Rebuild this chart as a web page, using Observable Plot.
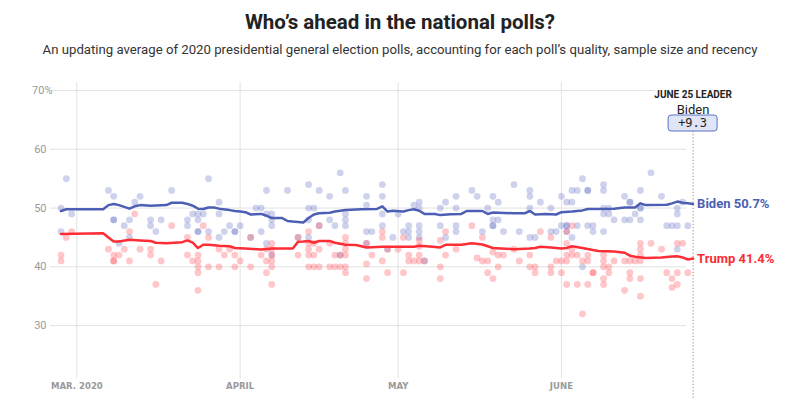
<!DOCTYPE html>
<html>
<head>
<meta charset="utf-8">
<script src="https://cdn.jsdelivr.net/npm/d3@7"></script>
<script src="https://cdn.jsdelivr.net/npm/@observablehq/plot@0.6"></script>
<style>
  html, body { margin: 0; padding: 0; background: #fff; }
  body { width: 800px; height: 410px; overflow: hidden; position: relative; font-family: Roboto, "Noto Sans", sans-serif; }
  #title { position: absolute; top: 9px; left: 0; width: 800px; text-align: center; font-size: 20.5px; line-height: 26px; font-weight: 700; color: #222; }
  #subtitle { position: absolute; top: 41px; left: 0; width: 800px; text-align: center; font-size: 13.2px; line-height: 18px; color: #333; }
  #chart { position: absolute; top: 64px; left: 0; }
</style>
</head>
<body>
<div id="title">Who’s ahead in the national polls?</div>
<div id="subtitle">An updating average of 2020 presidential general election polls, accounting for each poll’s quality, sample size and recency</div>
<div id="chart"></div>
<script>
// ---------- data ----------
const xDomain = ["02-25", "06-26"];
const yDomain = [21, 70];
const yTicks = [30, 40, 50, 60, 70];
const monthTicks = ["03-01", "04-01", "05-01", "06-01"];
const monthLabels = ["MAR. 2020", "APRIL", "MAY", "JUNE"];

const bidenTrend = [
  ["02-27",49.5],["02-28",49.8],["03-06",49.8],["03-07",50.5],["03-08",50.7],["03-09",50.5],["03-11",49.9],
  ["03-12",50.3],["03-13",50.5],["03-15",50.4],["03-18",50.5],["03-19",50.9],["03-21",50.9],["03-22",50.7],
  ["03-23",50.4],["03-24",49.9],["03-25",49.85],["03-26",50.1],["03-27",50.1],["03-28",49.9],["03-30",49.65],
  ["03-31",49.5],["04-01",49.4],["04-02",49.3],["04-03",48.9],["04-05",49.0],["04-06",48.7],["04-07",48.3],
  ["04-09",48.3],["04-10",47.8],["04-11",47.7],["04-13",47.55],["04-14",48.3],["04-15",48.9],["04-16",49.1],
  ["04-18",49.2],["04-19",49.4],["04-21",49.65],["04-24",49.8],["04-27",49.85],["04-28",50.3],["04-29",49.4],
  ["04-30",49.55],["05-02",49.4],["05-03",49.65],["05-04",49.8],["05-05",49.55],["05-06",49.0],["05-08",49.0],
  ["05-09",48.8],["05-11",48.95],["05-13",49.0],["05-14",49.5],["05-17",49.5],["05-18",49.0],["05-19",49.25],
  ["05-23",49.1],["05-25",49.1],["05-26",49.5],["05-27",48.9],["05-29",49.0],["05-31",48.9],["06-01",49.3],
  ["06-03",49.4],["06-05",49.6],["06-06",49.85],["06-11",49.9],["06-13",50.1],["06-15",50.1],["06-16",50.8],
  ["06-17",50.5],["06-21",50.55],["06-22",50.8],["06-23",51.1],["06-24",50.9],["06-25",50.8],["06-26",50.7]
];

const trumpTrend = [
  ["02-27",45.6],["03-06",45.7],["03-07",45.0],["03-08",44.3],["03-09",44.3],["03-11",44.6],["03-13",44.5],
  ["03-15",44.4],["03-16",44.1],["03-18",44.0],["03-21",44.2],["03-22",44.5],["03-23",44.1],["03-24",43.2],
  ["03-25",43.75],["03-26",43.75],["03-28",43.6],["03-30",43.5],["03-31",43.2],["04-02",43.1],["04-05",42.95],
  ["04-07",43.1],["04-11",43.1],["04-12",44.25],["04-13",44.3],["04-14",44.4],["04-15",44.1],["04-16",44.4],
  ["04-18",44.4],["04-19",44.1],["04-21",43.75],["04-23",43.7],["04-25",43.3],["04-28",43.4],["05-04",43.4],
  ["05-05",43.6],["05-07",43.45],["05-09",43.3],["05-10",43.75],["05-13",43.75],["05-15",44.0],["05-17",43.8],
  ["05-19",43.2],["05-23",43.0],["05-26",43.1],["05-27",43.2],["05-28",43.4],["05-30",43.3],["06-01",43.1],
  ["06-02",43.2],["06-03",43.5],["06-05",43.2],["06-07",42.85],["06-08",42.7],["06-11",42.6],["06-13",42.4],
  ["06-14",41.9],["06-15",41.7],["06-17",41.5],["06-20",41.6],["06-22",41.75],["06-23",41.8],["06-24",41.6],
  ["06-25",41.25],["06-26",41.4]
];

const bidenPolls = [
  ["02-27",50],["02-27",46],["02-28",55],["02-29",49],["03-07",53],["03-08",52],["03-08",48],["03-08",48],
  ["03-09",44],["03-10",47],["03-11",48],["03-11",45],["03-12",51],["03-13",52],["03-15",48],["03-15",47],
  ["03-16",46],["03-17",48],["03-19",53],["03-22",48],["03-22",47],["03-23",49],["03-24",49],["03-24",48],
  ["03-24",46],["03-24",46],["03-25",49],["03-26",55],["03-26",46],["03-28",51],["03-28",49],["03-28",45],
  ["03-29",46],["03-30",47],["03-31",46],["03-31",46],["04-01",47],["04-03",45],["04-04",50],["04-05",50],
  ["04-05",46],["04-06",53],["04-06",49],["04-06",44],["04-07",49],["04-07",48],["04-07",47],["04-07",42],
  ["04-10",53],["04-12",45],["04-14",54],["04-14",50],["04-14",48],["04-14",45],["04-15",50],["04-16",53],
  ["04-16",47],["04-18",52],["04-18",48],["04-19",47],["04-20",56],["04-20",42],["04-21",53],["04-21",49],
  ["04-21",48],["04-21",47],["04-25",52],["04-25",50.5],["04-25",46],["04-25",44],["04-26",46],["04-28",54],
  ["04-28",52],["04-28",49],["04-28",47],["04-29",43],["04-30",45],["05-01",49],["05-02",46],["05-03",47],
  ["05-03",46],["05-03",45],["05-04",50.5],["05-05",51],["05-05",50],["05-05",47],["05-05",46],["05-05",45],
  ["05-06",41],["05-09",50],["05-09",47],["05-10",51],["05-10",45],["05-12",52],["05-12",50],["05-12",47],
  ["05-12",46],["05-15",53],["05-16",52],["05-17",46],["05-18",50],["05-19",52],["05-19",48],["05-19",47],
  ["05-19",47],["05-20",51],["05-20",48],["05-21",46],["05-23",54],["05-24",46],["05-26",53],["05-26",52],
  ["05-26",50],["05-26",45],["05-27",45],["05-28",51],["05-30",50],["05-30",46],["05-31",46],["06-01",52],
  ["06-01",47],["06-02",51],["06-02",47],["06-02",47],["06-02",46],["06-03",53],["06-03",51],["06-03",45],
  ["06-04",53],["06-04",47],["06-05",55],["06-05",40],["06-06",53],["06-06",53],["06-06",47],["06-07",47],
  ["06-07",46],["06-09",54],["06-09",53],["06-09",50],["06-09",49],["06-09",46],["06-10",50],["06-10",49],
  ["06-11",48],["06-13",52],["06-13",48],["06-14",51],["06-14",51],["06-14",48],["06-15",49],["06-16",53],
  ["06-16",50],["06-16",50],["06-16",48],["06-18",56],["06-20",52],["06-21",47],["06-22",47],["06-23",50],
  ["06-23",49],["06-23",47],["06-23",43],["06-24",51],["06-25",47]
];

const trumpPolls = [
  ["02-27",42],["02-27",41],["02-28",45],["02-29",46],["03-07",43],["03-08",42],["03-08",41],["03-08",41],
  ["03-09",42],["03-10",43],["03-11",46],["03-11",41],["03-12",49],["03-13",43],["03-15",43],["03-15",42],
  ["03-16",37],["03-17",41],["03-19",47],["03-22",45],["03-22",42],["03-23",41],["03-24",42],["03-24",41],
  ["03-24",40],["03-24",39],["03-24",36],["03-25",47],["03-26",45],["03-26",40],["03-28",43],["03-28",40],
  ["03-29",42],["03-30",43],["03-31",42],["03-31",40],["04-01",41],["04-03",45],["04-03",40],["04-05",42],
  ["04-06",43],["04-06",41],["04-06",39],["04-07",44],["04-07",43],["04-07",42],["04-07",41],["04-07",40],
  ["04-07",37],["04-12",45],["04-12",42],["04-14",46],["04-14",44],["04-14",43],["04-14",42],["04-14",40],
  ["04-15",44],["04-15",42],["04-15",40],["04-16",47],["04-16",43],["04-16",40],["04-18",44],["04-18",40],
  ["04-19",42],["04-19",40],["04-20",42],["04-20",40],["04-21",45],["04-21",44],["04-21",43],["04-21",42],
  ["04-21",40],["04-21",39],["04-25",44],["04-25",40.5],["04-25",38],["04-26",42],["04-28",46],["04-28",45],
  ["04-28",41],["04-29",43],["04-29",39],["05-01",43],["05-02",45],["05-02",39],["05-03",42],["05-03",41],
  ["05-04",41],["05-05",44.5],["05-05",43.5],["05-05",42],["05-05",41],["05-06",41],["05-09",44.5],["05-09",40],
  ["05-09",38],["05-10",46],["05-10",42],["05-12",43],["05-15",47],["05-16",41.5],["05-17",45],["05-17",41],
  ["05-18",41],["05-18",39],["05-19",42.5],["05-19",38],["05-20",42],["05-20",40],["05-21",42],["05-23",43],
  ["05-24",41],["05-26",42],["05-26",40],["05-27",40],["05-27",39],["05-28",46],["05-30",45],["05-30",40],
  ["05-30",39],["05-31",41],["06-01",41],["06-01",39],["06-02",46],["06-02",44],["06-02",42],["06-02",41],
  ["06-02",37],["06-03",47],["06-03",43],["06-03",42],["06-04",42],["06-04",37],["06-05",41],["06-05",32],
  ["06-06",42],["06-06",41],["06-06",37],["06-07",39],["06-07",39],["06-09",42],["06-09",41],["06-09",40],
  ["06-09",38],["06-09",37],["06-10",40],["06-10",39],["06-11",41],["06-13",41],["06-13",36],["06-14",41],
  ["06-14",39],["06-14",38],["06-15",41],["06-16",44],["06-16",43],["06-16",42],["06-16",41],["06-16",38],
  ["06-16",35],["06-18",44],["06-20",43],["06-21",39],["06-22",38],["06-22",36.5],["06-23",44],["06-23",39],
  ["06-23",37],["06-24",44],["06-25",39]
];

// ---------- styles ----------
const BLUE = "#4c5fb5";
const RED = "#fd2d36";
const GRID = "#e2e2e2";
const AXIS_TEXT = "#9a9a9a";

const parse = s => new Date(`2020-${s}T00:00:00Z`);
const toRows = arr => arr.map(([d, v]) => ({date: parse(d), value: v}));

const bT = toRows(bidenTrend), tT = toRows(trumpTrend);
const bP = toRows(bidenPolls), tP = toRows(trumpPolls);
const bLast = bT[bT.length - 1], tLast = tT[tT.length - 1];
const leaderName = bLast.value >= tLast.value ? "Biden" : "Trump";
const margin = Math.abs(bLast.value - tLast.value).toFixed(1);
const leaderRow = {date: bLast.date};
const leaderTitle = "JUNE 25 LEADER";

const chart = Plot.plot({
  width: 800,
  height: 346,
  marginTop: 18,
  marginBottom: 32,
  marginLeft: 50,
  marginRight: 107.4,
  x: {type: "utc", domain: xDomain.map(parse), axis: null},
  y: {domain: yDomain, insetTop: 8, axis: null},
  style: {fontFamily: "Roboto, 'Noto Sans', sans-serif", background: "white", overflow: "visible"},
  marks: [
    Plot.ruleY(yTicks, {y: d => d, stroke: GRID, strokeWidth: 1, insetRight: 6.6}),
    Plot.ruleX(monthTicks.map(parse), {x: d => d, stroke: GRID, strokeWidth: 1}),
    Plot.text(yTicks.filter(v => v < 70), {y: d => d, text: d => String(d), frameAnchor: "left", textAnchor: "end", dx: -4, fill: AXIS_TEXT, fontSize: 11}),
    Plot.text(yTicks.filter(v => v === 70), {y: d => d, text: d => d + "%", frameAnchor: "left", textAnchor: "end", dx: 2, fill: AXIS_TEXT, fontSize: 11}),
    Plot.text(monthTicks.map(parse), {x: d => d, text: (d, i) => monthLabels[i], frameAnchor: "bottom", dy: 10, fill: AXIS_TEXT, fontSize: 9.5, fontWeight: 700, fontFamily: "'DejaVu Sans Condensed', 'Liberation Sans Narrow', sans-serif"}),
    Plot.ruleX([leaderRow], {x: "date", insetTop: 49, insetBottom: -21, stroke: "#8a8a8a", strokeWidth: 1, strokeDasharray: "1.2,2"}),
    Plot.dot(bP, {x: "date", y: "value", r: 3.4, fill: "#5c6bc0", fillOpacity: 0.3}),
    Plot.dot(tP, {x: "date", y: "value", r: 3.4, fill: "#ff4550", fillOpacity: 0.3}),
    Plot.line(bT, {x: "date", y: "value", stroke: BLUE, strokeWidth: 2.5, curve: "linear"}),
    Plot.line(tT, {x: "date", y: "value", stroke: RED, strokeWidth: 2.5, curve: "linear"}),
    Plot.text([bLast], {x: "date", y: "value", text: d => `Biden ${d.value}%`, dx: 4, textAnchor: "start", fill: BLUE, fontWeight: 700, fontSize: 13}),
    Plot.text([tLast], {x: "date", y: "value", text: d => `Trump ${d.value}%`, dx: 4, textAnchor: "start", fill: RED, fontWeight: 700, fontSize: 13}),
    Plot.text([leaderRow], {x: "date", text: () => leaderTitle, frameAnchor: "top", dy: 8, fill: "#222", stroke: "white", strokeWidth: 5, fontWeight: 700, fontSize: 10}),
    Plot.text([leaderRow], {x: "date", text: () => leaderName, frameAnchor: "top", dy: 22, fill: "#222", fontSize: 13})
  ]
});

document.getElementById("chart").appendChild(chart);

// leader margin badge, placed with the chart's x scale
const xs = chart.scale("x");
const cx = xs.apply(leaderRow.date);
const svg = d3.select(chart);
const g = svg.append("g");
g.append("rect")
  .attr("x", cx - 24.5).attr("y", 51).attr("width", 49).attr("height", 16)
  .attr("rx", 3).attr("fill", "#dfe4f7").attr("stroke", "#5f72c4").attr("stroke-width", 1);
g.append("text")
  .attr("x", cx).attr("y", 59).attr("text-anchor", "middle").attr("dominant-baseline", "central")
  .attr("font-family", "'DejaVu Sans Mono', monospace").attr("font-size", 12).attr("fill", "#222")
  .text("+" + margin);
</script>
</body>
</html>
